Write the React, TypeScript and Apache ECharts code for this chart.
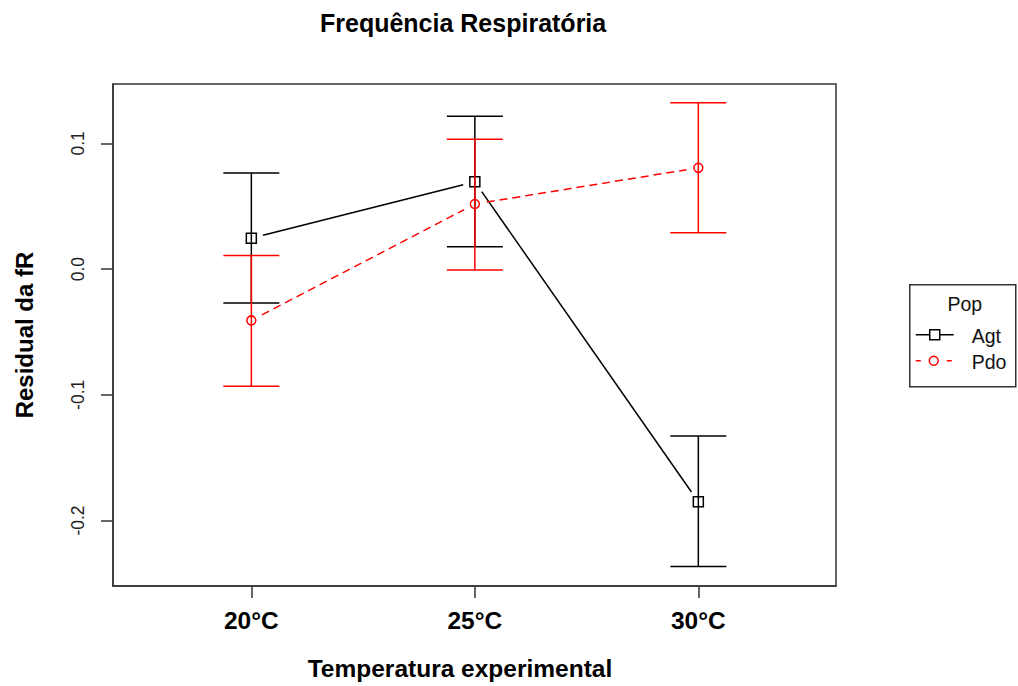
import React, { useEffect, useRef } from "react";
import * as echarts from "echarts";

const xLabels = ["20°C", "25°C", "30°C"];
const xPos = [1, 2, 3];
const popNames = ["Agt", "Pdo"];
const agtMean = [0.0246, 0.0695, -0.1851];
const agtHi = [0.0764, 0.1216, -0.1328];
const agtLo = [-0.027, 0.0179, -0.2366];
const pdoMean = [-0.0408, 0.0518, 0.0806];
const pdoHi = [0.0108, 0.1033, 0.1324];
const pdoLo = [-0.0931, -0.0006, 0.029];
const yTicks = [-0.2, -0.1, 0, 0.1];

const FONT = "'Liberation Sans', Arial, sans-serif";

function makeSeries(name: string, mean: number[], lo: number[], hi: number[], color: string, dashed: boolean, marker: "square" | "circle") {
  const data = xPos.map((x, i) => [x, mean[i], lo[i], hi[i]]);
  return {
    type: "custom",
    name,
    data,
    renderItem: (params: any, api: any) => {
      const i = params.dataIndex;
      const x = api.value(0);
      const p = api.coord([x, api.value(1)]);
      const pl = api.coord([x, api.value(2)]);
      const ph = api.coord([x, api.value(3)]);
      const cap = 28;
      const lw = 1.5;
      const children: any[] = [
        { type: "line", shape: { x1: p[0], y1: ph[1], x2: p[0], y2: pl[1] }, style: { stroke: color, lineWidth: lw } },
        { type: "line", shape: { x1: p[0] - cap, y1: ph[1], x2: p[0] + cap, y2: ph[1] }, style: { stroke: color, lineWidth: lw } },
        { type: "line", shape: { x1: p[0] - cap, y1: pl[1], x2: p[0] + cap, y2: pl[1] }, style: { stroke: color, lineWidth: lw } },
      ];
      if (i < xPos.length - 1) {
        const q = api.coord([xPos[i + 1], mean[i + 1]]);
        const dx = q[0] - p[0];
        const dy = q[1] - p[1];
        const d = Math.sqrt(dx * dx + dy * dy);
        const g = 12;
        children.push({
          type: "line",
          shape: { x1: p[0] + (dx * g) / d, y1: p[1] + (dy * g) / d, x2: q[0] - (dx * g) / d, y2: q[1] - (dy * g) / d },
          style: { stroke: color, lineWidth: lw, lineDash: dashed ? [8, 5] : null },
        });
      }
      if (marker === "square") {
        children.push({ type: "rect", shape: { x: p[0] - 5, y: p[1] - 5, width: 10, height: 10 }, style: { fill: "none", stroke: color, lineWidth: lw } });
      } else {
        children.push({ type: "circle", shape: { cx: p[0], cy: p[1], r: 4.5 }, style: { fill: "none", stroke: color, lineWidth: lw } });
      }
      return { type: "group", children };
    },
  };
}

export default function App() {
  const ref = useRef<HTMLDivElement>(null);
  useEffect(() => {
    if (!ref.current) return;
    const chart = echarts.init(ref.current, null, { renderer: "svg" });
    const legendX = 909;
    const legendY = 284;
    chart.setOption({
      animation: false,
      backgroundColor: "#fff",
      textStyle: { fontFamily: FONT },
      title: {
        text: "Frequência Respiratória",
        left: 315,
        top: 5,
        textStyle: { fontFamily: FONT, fontWeight: "bold", fontSize: 25, color: "#000" },
      },
      grid: { left: 113, top: 84, width: 723, height: 502, show: true, borderColor: "#333", borderWidth: 1.5, backgroundColor: "transparent" },
      xAxis: {
        type: "value",
        min: 0.381,
        max: 3.616,
        name: "Temperatura experimental",
        nameLocation: "middle",
        nameGap: 70,
        nameTextStyle: { fontFamily: FONT, fontWeight: "bold", fontSize: 24.5, color: "#000", padding: [0, 29, 0, 0] },
        axisLine: { show: true, onZero: false, lineStyle: { color: "#333", width: 1.5 } },
        axisTick: { show: true, customValues: xPos, length: 12, lineStyle: { color: "#333", width: 1.5 } },
        axisLabel: {
          customValues: xPos,
          margin: 22,
          formatter: (v: number) => xLabels[Math.round(v) - 1],
          fontFamily: FONT,
          fontWeight: "bold",
          fontSize: 24.5,
          color: "#000",
        },
        splitLine: { show: false },
      },
      yAxis: {
        type: "value",
        min: -0.2521,
        max: 0.1473,
        name: "Residual da fR",
        nameLocation: "middle",
        nameGap: 77,
        nameRotate: 90,
        nameTextStyle: { fontFamily: FONT, fontWeight: "bold", fontSize: 24, color: "#000" },
        axisLine: { show: true, onZero: false, lineStyle: { color: "#333", width: 1.5 } },
        axisTick: { show: true, customValues: yTicks, length: 12, lineStyle: { color: "#333", width: 1.5 } },
        axisLabel: {
          customValues: yTicks,
          rotate: 90,
          margin: 26,
          formatter: (v: number) => v.toFixed(1),
          fontFamily: FONT,
          fontSize: 17.5,
          color: "#222",
        },
        splitLine: { show: false },
      },
      series: [
        makeSeries(popNames[0], agtMean, agtLo, agtHi, "#000000", false, "square"),
        makeSeries(popNames[1], pdoMean, pdoLo, pdoHi, "#ff0000", true, "circle"),
      ],
      graphic: [
        {
          type: "group",
          left: legendX,
          top: legendY,
          children: [
            { type: "rect", shape: { x: 0, y: 0, width: 106, height: 102 }, style: { fill: "#fff", stroke: "#333", lineWidth: 1.5 } },
            { type: "text", x: 55, y: 19, style: { text: "Pop", fontFamily: FONT, fontSize: 19.5, fill: "#111", align: "center", verticalAlign: "middle" } },
            { type: "line", shape: { x1: 6, y1: 50, x2: 44, y2: 50 }, style: { stroke: "#000", lineWidth: 1.5 } },
            { type: "rect", shape: { x: 20, y: 45, width: 10, height: 10 }, style: { fill: "#fff", stroke: "#000", lineWidth: 1.5 } },
            { type: "text", x: 62, y: 51, style: { text: popNames[0], fontFamily: FONT, fontSize: 19.5, fill: "#111", align: "left", verticalAlign: "middle" } },
            { type: "line", shape: { x1: 6, y1: 76, x2: 11, y2: 76 }, style: { stroke: "#ff0000", lineWidth: 1.5 } },
            { type: "circle", shape: { cx: 24, cy: 76, r: 4.5 }, style: { fill: "#fff", stroke: "#ff0000", lineWidth: 1.5 } },
            { type: "line", shape: { x1: 37, y1: 76, x2: 42, y2: 76 }, style: { stroke: "#ff0000", lineWidth: 1.5 } },
            { type: "text", x: 62, y: 77, style: { text: popNames[1], fontFamily: FONT, fontSize: 19.5, fill: "#111", align: "left", verticalAlign: "middle" } },
          ],
        },
      ],
    });
    return () => chart.dispose();
  }, []);
  return <div ref={ref} style={{ position: "absolute", left: 0, top: 0, width: 1018, height: 686 }} />;
}
